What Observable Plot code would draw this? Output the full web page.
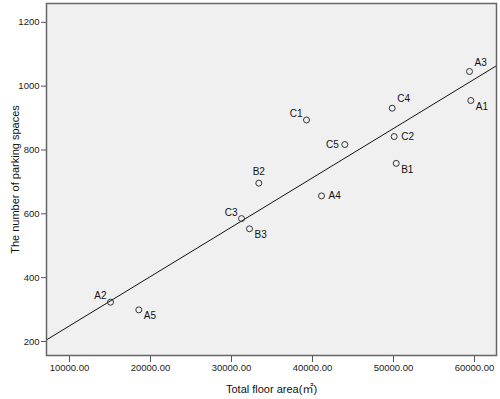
<!DOCTYPE html>
<html><head><meta charset="utf-8">
<script src="https://cdn.jsdelivr.net/npm/d3@7"></script>
<script src="https://cdn.jsdelivr.net/npm/@observablehq/plot@0.6"></script>
<style>body{margin:0;background:#fff;} #chart svg{display:block;}</style>
</head><body><div id="chart"></div>
<script>
const sites     = ["A1","A2","A3","A4","A5","B1","B2","B3","C1","C2","C3","C4","C5"];
const floorArea = [59543,15062,59383,41111,18556,50333,33370,32222,39259,50086,31235,49840,43988];
const parking   = [955,323,1046,656,299,758,696,553,894,842,585,931,817];
const labelSide = ["br","tl","tr","r","br","br","t","br","tl","r","tl","tr","l"];
const fitX = [7160, 62716];
const fitY = [205, 1064];
const xTicks = [10000,20000,30000,40000,50000,60000];
const yTicks = [200,400,600,800,1000,1200];
const xTitle = "Total floor area(㎡)";
const yTitle = "The number of parking spaces";

const data = sites.map((s,i)=>({site:s, x:floorArea[i], y:parking[i], side:labelSide[i]}));
const fit = fitX.map((x,i)=>({x, y:fitY[i]}));

const sideStyle = {
  br:{textAnchor:"start", dx:5, dy:6},
  tl:{textAnchor:"end", dx:-4, dy:-6},
  tr:{textAnchor:"start", dx:5, dy:-9},
  r:{textAnchor:"start", dx:7, dy:0},
  l:{textAnchor:"end", dx:-6, dy:0},
  t:{textAnchor:"middle", dx:0, dy:-11}
};
const labelMarks = Object.entries(sideStyle).map(([k,st]) =>
  Plot.text(data.filter(d=>d.side===k), {x:"x", y:"y", text:"site", fontSize:10, fill:"#111", ...st})
);

const font = "'Liberation Sans', Arial, 'Noto Sans CJK KR', sans-serif";
const chart = Plot.plot({
  width: 500, height: 399,
  marginLeft: 46, marginRight: 4, marginTop: 3, marginBottom: 44,
  style: {fontFamily: font, background: "#fff", color: "#222"},
  x: {domain: [7160, 62716]},
  y: {domain: [156, 1259]},
  marks: [
    Plot.frame({fill: "#f0f0f0"}),
    Plot.line(fit, {x:"x", y:"y", stroke:"#111", strokeWidth:1, clip:true}),
    Plot.dot(data, {x:"x", y:"y", r:3, stroke:"#333", strokeWidth:1, fill:"none"}),
    ...labelMarks,
    Plot.axisX({ticks: xTicks, tickFormat: d => d.toFixed(2), tickSize: 7, tickPadding: 2, fontSize: 9.5, stroke:"#555", label: null}),
    Plot.axisY({ticks: yTicks, tickFormat: d => String(d), tickSize: 5, tickPadding: 2, fontSize: 9.5, stroke:"#555", label: null}),
    Plot.axisX({ticks: [], tickSize: 0, fontSize: 11, label: xTitle, labelAnchor: "center", labelArrow: "none", labelOffset: 37, fill:"#111"}),
    Plot.axisY({ticks: [], tickSize: 0, fontSize: 11, label: yTitle, labelAnchor: "center", labelArrow: "none", labelOffset: 35, fill:"#111"}),
    Plot.frame({stroke: "#666", strokeWidth: 1.5})
  ]
});
document.getElementById("chart").append(chart);
</script>
</body></html>
